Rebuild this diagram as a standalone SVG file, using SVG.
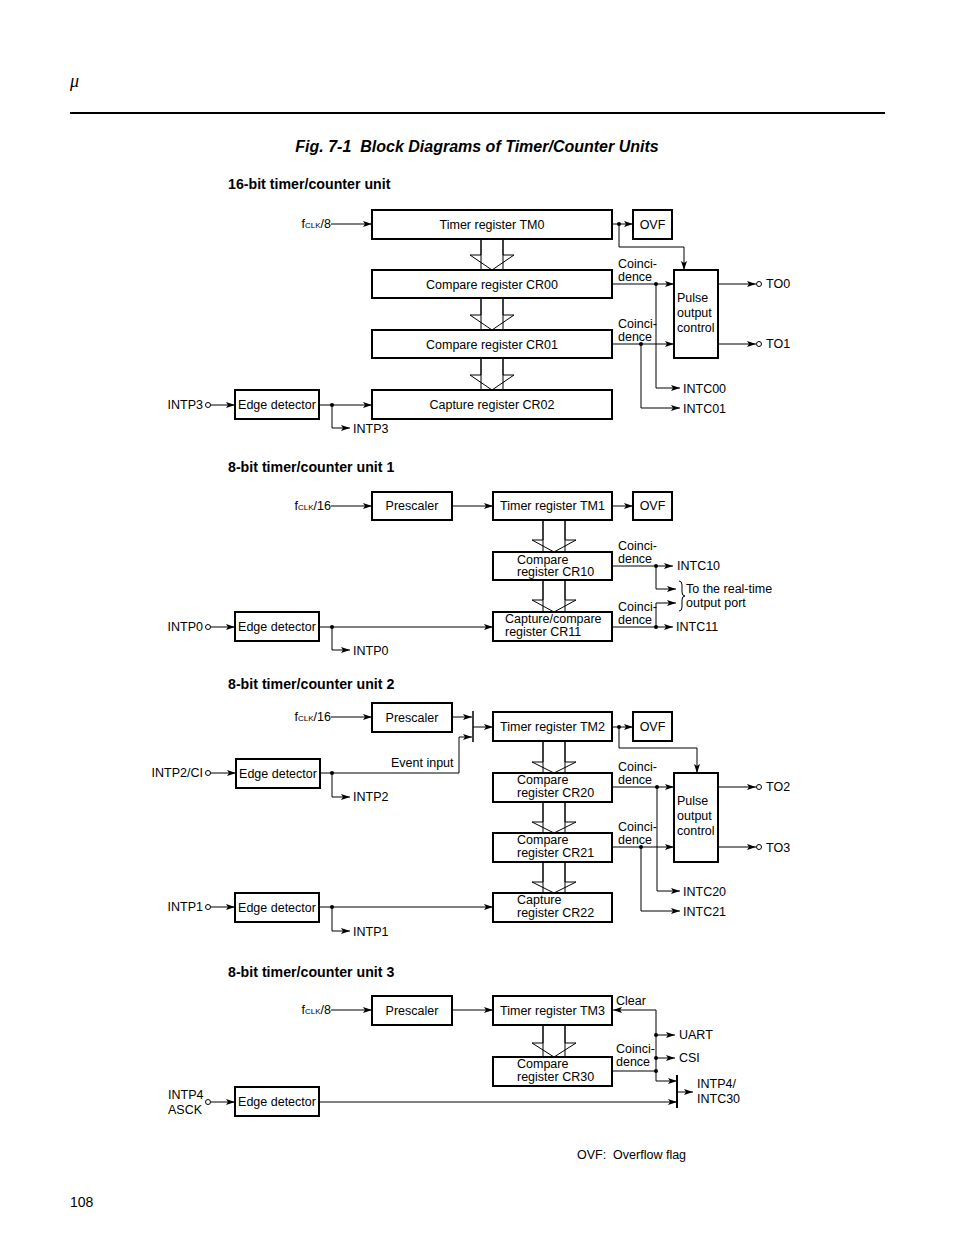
<svg xmlns="http://www.w3.org/2000/svg" width="954" height="1235" viewBox="0 0 954 1235">
<defs>
<style>
text{font-family:"Liberation Sans",Arial,sans-serif;font-size:12.5px;fill:#000}
.c{text-anchor:middle}
.e{text-anchor:end}
.h{font-weight:bold;font-size:14.2px}
.box{fill:#fff;stroke:#000;stroke-width:2}
.ln{fill:none;stroke:#000;stroke-width:1}
.ha{fill:#fff;stroke:#000;stroke-width:1}
.bar{stroke:#000;stroke-width:2}
.sub{font-size:8px}
</style>
<marker id="a" markerWidth="10" markerHeight="7" refX="9" refY="3" orient="auto" markerUnits="userSpaceOnUse"><path d="M0,0 L9,3 L0,6 L2,3 z" fill="#000"/></marker>
</defs>
<rect width="954" height="1235" fill="#fff"/>
<text x="70" y="87" style="font-family:'Liberation Serif',serif;font-style:italic;font-size:18px">μ</text>
<line x1="70" y1="113" x2="885" y2="113" stroke="#000" stroke-width="2"/>
<text x="477" y="152" class="c" style="font-weight:bold;font-style:italic;font-size:16px">Fig. 7-1&#160; Block Diagrams of Timer/Counter Units</text>

<!-- ===== 16-bit unit ===== -->
<text x="228" y="189" class="h">16-bit timer/counter unit</text>
<g id="connectors1">
<path class="ln" d="M331,224 H372" marker-end="url(#a)"/>
<path class="ln" d="M612,224 H633" marker-end="url(#a)"/>
<path class="ln" d="M619,224 V247 H684 V270" marker-end="url(#a)"/>
<path class="ln" d="M612,284 H674" marker-end="url(#a)"/>
<path class="ln" d="M656,284 V388 H680" marker-end="url(#a)"/>
<path class="ln" d="M612,344 H674" marker-end="url(#a)"/>
<path class="ln" d="M641,344 V408 H680" marker-end="url(#a)"/>
<path class="ln" d="M718,284 H756" marker-end="url(#a)"/>
<path class="ln" d="M718,344 H756" marker-end="url(#a)"/>
<path class="ln" d="M210.5,405 H235" marker-end="url(#a)"/>
<path class="ln" d="M319,405 H372" marker-end="url(#a)"/>
<path class="ln" d="M332,405 V428 H350" marker-end="url(#a)"/>
<circle cx="619" cy="224" r="2"/>
<circle cx="656" cy="284" r="2"/>
<circle cx="641" cy="344" r="2"/>
<circle cx="332" cy="405" r="2"/>
<circle cx="759" cy="284" r="2.5" class="ha"/>
<circle cx="759" cy="344" r="2.5" class="ha"/>
<circle cx="208" cy="405" r="2.5" class="ha"/>
<path class="ha" d="M481,239 V270 M503,239 V270 M481,239 V255 H470 L492,270 L514,255 H503 V239"/>
<path class="ha" d="M481,298 V330 M503,298 V330 M481,298 V315 H470 L492,330 L514,315 H503 V298"/>
<path class="ha" d="M481,358 V390 M503,358 V390 M481,358 V375 H470 L492,390 L514,375 H503 V358"/>
</g>
<text x="331" y="228" class="e">f<tspan class="sub">CLK</tspan>/8</text>
<g id="tm0"><rect class="box" x="372" y="210" width="240" height="29"/><text x="492" y="229" class="c">Timer register TM0</text></g>
<g id="ovf0"><rect class="box" x="633" y="210" width="39" height="29"/><text x="652.5" y="229" class="c">OVF</text></g>
<g id="cr00"><rect class="box" x="372" y="270" width="240" height="28"/><text x="492" y="289" class="c">Compare register CR00</text></g>
<g id="cr01"><rect class="box" x="372" y="330" width="240" height="28"/><text x="492" y="349" class="c">Compare register CR01</text></g>
<g id="cr02"><rect class="box" x="372" y="390" width="240" height="29"/><text x="492" y="409" class="c">Capture register CR02</text></g>
<g id="pulse0"><rect class="box" x="674" y="270" width="44" height="88"/><text x="677" y="302">Pulse</text><text x="677" y="317">output</text><text x="677" y="332">control</text></g>
<g id="edge3"><rect class="box" x="235" y="390" width="84" height="29"/><text x="277" y="409" class="c">Edge detector</text></g>
<text x="618" y="268">Coinci-</text><text x="618" y="281">dence</text>
<text x="618" y="328">Coinci-</text><text x="618" y="341">dence</text>
<text x="683" y="393">INTC00</text>
<text x="683" y="413">INTC01</text>
<text x="766" y="288">TO0</text>
<text x="766" y="348">TO1</text>
<text x="203" y="409" class="e">INTP3</text>
<text x="353" y="433">INTP3</text>

<!-- ===== 8-bit unit 1 ===== -->
<text x="228" y="472" class="h">8-bit timer/counter unit 1</text>
<g id="connectors2">
<path class="ln" d="M331,506 H372" marker-end="url(#a)"/>
<path class="ln" d="M452,506 H493" marker-end="url(#a)"/>
<path class="ln" d="M612,506 H633" marker-end="url(#a)"/>
<path class="ln" d="M612,566 H673" marker-end="url(#a)"/>
<path class="ln" d="M656,566 V589 H676" marker-end="url(#a)"/>
<path class="ln" d="M612,627 H673" marker-end="url(#a)"/>
<path class="ln" d="M656,627 V603 H676" marker-end="url(#a)"/>
<path class="ln" d="M210.5,627 H235" marker-end="url(#a)"/>
<path class="ln" d="M319,627 H493" marker-end="url(#a)"/>
<path class="ln" d="M332,627 V650 H350" marker-end="url(#a)"/>
<path class="ln" d="M679,581 Q682,581 682,585 V592 Q682,596 685,596 Q682,596 682,600 V607 Q682,611 679,611"/>
<circle cx="656" cy="566" r="2"/>
<circle cx="656" cy="627" r="2"/>
<circle cx="332" cy="627" r="2"/>
<circle cx="208" cy="627" r="2.5" class="ha"/>
<path class="ha" d="M543,520 V552 M565,520 V552 M543,520 V540 H532 L554,552 L576,540 H565 V520"/>
<path class="ha" d="M543,580 V612 M565,580 V612 M543,580 V600 H532 L554,612 L576,600 H565 V580"/>
</g>
<text x="331" y="510" class="e">f<tspan class="sub">CLK</tspan>/16</text>
<g id="pre1"><rect class="box" x="372" y="492" width="80" height="28"/><text x="412" y="510" class="c">Prescaler</text></g>
<g id="tm1"><rect class="box" x="493" y="492" width="119" height="28"/><text x="552.5" y="510" class="c">Timer register TM1</text></g>
<g id="ovf1"><rect class="box" x="633" y="492" width="39" height="28"/><text x="652.5" y="510" class="c">OVF</text></g>
<g id="cr10"><rect class="box" x="493" y="552" width="119" height="28"/><text x="517" y="564">Compare</text><text x="517" y="576">register CR10</text></g>
<g id="cr11"><rect class="box" x="493" y="612" width="119" height="29"/><text x="505" y="623">Capture/compare</text><text x="505" y="636">register CR11</text></g>
<g id="edge0"><rect class="box" x="235" y="612" width="84" height="29"/><text x="277" y="631" class="c">Edge detector</text></g>
<text x="618" y="550">Coinci-</text><text x="618" y="563">dence</text>
<text x="618" y="611">Coinci-</text><text x="618" y="624">dence</text>
<text x="677" y="570">INTC10</text>
<text x="676" y="631">INTC11</text>
<text x="686" y="593">To the real-time</text>
<text x="686" y="607">output port</text>
<text x="203" y="631" class="e">INTP0</text>
<text x="353" y="655">INTP0</text>

<!-- ===== 8-bit unit 2 ===== -->
<text x="228" y="689" class="h">8-bit timer/counter unit 2</text>
<g id="connectors3">
<path class="ln" d="M331,717 H372" marker-end="url(#a)"/>
<path class="ln" d="M452,717 H472" marker-end="url(#a)"/>
<line class="bar" x1="473" y1="711" x2="473" y2="742" style="stroke-width:1.5"/>
<path class="ln" d="M473,727 H493" marker-end="url(#a)"/>
<path class="ln" d="M612,727 H633" marker-end="url(#a)"/>
<path class="ln" d="M619,727 V748 H697 V773" marker-end="url(#a)"/>
<path class="ln" d="M612,787 H674" marker-end="url(#a)"/>
<path class="ln" d="M657,787 V891 H680" marker-end="url(#a)"/>
<path class="ln" d="M612,847 H674" marker-end="url(#a)"/>
<path class="ln" d="M641,847 V911 H680" marker-end="url(#a)"/>
<path class="ln" d="M718,787 H756" marker-end="url(#a)"/>
<path class="ln" d="M718,847 H756" marker-end="url(#a)"/>
<path class="ln" d="M210.5,773 H236" marker-end="url(#a)"/>
<path class="ln" d="M320,773 H459 V737 H472" marker-end="url(#a)"/>
<path class="ln" d="M332,773 V797 H350" marker-end="url(#a)"/>
<path class="ln" d="M210.5,907 H235" marker-end="url(#a)"/>
<path class="ln" d="M319,907 H493" marker-end="url(#a)"/>
<path class="ln" d="M332,907 V931 H350" marker-end="url(#a)"/>
<circle cx="619" cy="727" r="2"/>
<circle cx="657" cy="787" r="2"/>
<circle cx="641" cy="847" r="2"/>
<circle cx="332" cy="773" r="2"/>
<circle cx="332" cy="907" r="2"/>
<circle cx="759" cy="787" r="2.5" class="ha"/>
<circle cx="759" cy="847" r="2.5" class="ha"/>
<circle cx="208" cy="773" r="2.5" class="ha"/>
<circle cx="208" cy="907" r="2.5" class="ha"/>
<path class="ha" d="M543,741 V773 M565,741 V773 M543,741 V762 H532 L554,773 L576,762 H565 V741"/>
<path class="ha" d="M543,802 V833 M565,802 V833 M543,802 V822 H532 L554,833 L576,822 H565 V802"/>
<path class="ha" d="M543,862 V893 M565,862 V893 M543,862 V882 H532 L554,893 L576,882 H565 V862"/>
</g>
<text x="331" y="721" class="e">f<tspan class="sub">CLK</tspan>/16</text>
<g id="pre2"><rect class="box" x="372" y="703" width="80" height="29"/><text x="412" y="722" class="c">Prescaler</text></g>
<g id="tm2"><rect class="box" x="493" y="712" width="119" height="29"/><text x="552.5" y="731" class="c">Timer register TM2</text></g>
<g id="ovf2"><rect class="box" x="633" y="712" width="39" height="29"/><text x="652.5" y="731" class="c">OVF</text></g>
<g id="cr20"><rect class="box" x="493" y="773" width="119" height="29"/><text x="517" y="784">Compare</text><text x="517" y="797">register CR20</text></g>
<g id="cr21"><rect class="box" x="493" y="833" width="119" height="29"/><text x="517" y="844">Compare</text><text x="517" y="857">register CR21</text></g>
<g id="cr22"><rect class="box" x="493" y="893" width="119" height="29"/><text x="517" y="904">Capture</text><text x="517" y="917">register CR22</text></g>
<g id="pulse2"><rect class="box" x="674" y="773" width="44" height="89"/><text x="677" y="805">Pulse</text><text x="677" y="820">output</text><text x="677" y="835">control</text></g>
<g id="edge2"><rect class="box" x="236" y="759" width="84" height="29"/><text x="278" y="778" class="c">Edge detector</text></g>
<g id="edge1"><rect class="box" x="235" y="893" width="84" height="29"/><text x="277" y="912" class="c">Edge detector</text></g>
<text x="618" y="771">Coinci-</text><text x="618" y="784">dence</text>
<text x="618" y="831">Coinci-</text><text x="618" y="844">dence</text>
<text x="683" y="896">INTC20</text>
<text x="683" y="916">INTC21</text>
<text x="766" y="791">TO2</text>
<text x="766" y="852">TO3</text>
<text x="391" y="767">Event input</text>
<text x="203" y="777" class="e">INTP2/CI</text>
<text x="353" y="801">INTP2</text>
<text x="203" y="911" class="e">INTP1</text>
<text x="353" y="936">INTP1</text>

<!-- ===== 8-bit unit 3 ===== -->
<text x="228" y="977" class="h">8-bit timer/counter unit 3</text>
<g id="connectors4">
<path class="ln" d="M331,1010 H372" marker-end="url(#a)"/>
<path class="ln" d="M452,1010 H493" marker-end="url(#a)"/>
<path class="ln" d="M656,1010 H613" marker-end="url(#a)"/>
<path class="ln" d="M656,1010 V1081 H677" marker-end="url(#a)"/>
<path class="ln" d="M656,1035 H675" marker-end="url(#a)"/>
<path class="ln" d="M656,1058 H675" marker-end="url(#a)"/>
<path class="ln" d="M612,1071 H656"/>
<line class="bar" x1="677" y1="1075" x2="677" y2="1108"/>
<path class="ln" d="M677,1092 H693" marker-end="url(#a)"/>
<path class="ln" d="M210.5,1102 H235" marker-end="url(#a)"/>
<path class="ln" d="M319,1102 H677" marker-end="url(#a)"/>
<circle cx="656" cy="1035" r="2"/>
<circle cx="656" cy="1058" r="2"/>
<circle cx="656" cy="1071" r="2"/>
<circle cx="208" cy="1102" r="2.5" class="ha"/>
<path class="ha" d="M543,1025 V1057 M565,1025 V1057 M543,1025 V1043 H532 L554,1057 L576,1043 H565 V1025"/>
</g>
<text x="331" y="1014" class="e">f<tspan class="sub">CLK</tspan>/8</text>
<g id="pre3"><rect class="box" x="372" y="996" width="80" height="29"/><text x="412" y="1015" class="c">Prescaler</text></g>
<g id="tm3"><rect class="box" x="493" y="996" width="119" height="29"/><text x="552.5" y="1015" class="c">Timer register TM3</text></g>
<g id="cr30"><rect class="box" x="493" y="1057" width="119" height="29"/><text x="517" y="1068">Compare</text><text x="517" y="1081">register CR30</text></g>
<g id="edge4"><rect class="box" x="235" y="1087" width="84" height="29"/><text x="277" y="1106" class="c">Edge detector</text></g>
<text x="616" y="1005">Clear</text>
<text x="679" y="1039">UART</text>
<text x="679" y="1062">CSI</text>
<text x="616" y="1053">Coinci-</text><text x="616" y="1066">dence</text>
<text x="697" y="1088">INTP4/</text>
<text x="697" y="1103">INTC30</text>
<text x="168" y="1099">INTP4</text>
<text x="168" y="1114">ASCK</text>

<text x="577" y="1159">OVF:&#160; Overflow flag</text>
<text x="70" y="1207" style="font-size:14px">108</text>
</svg>
